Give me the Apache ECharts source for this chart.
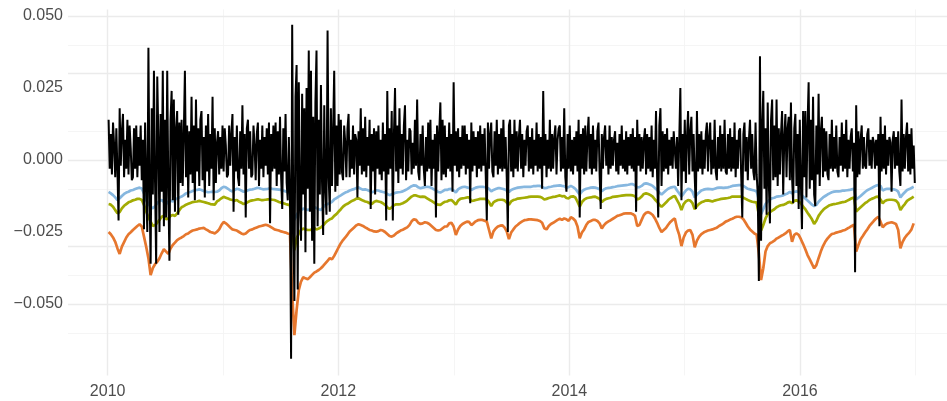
<!DOCTYPE html>
<html>
<head>
<meta charset="utf-8">
<script src="https://cdn.jsdelivr.net/npm/echarts@6.0.0/dist/echarts.min.js"></script>
<style>
html,body{margin:0;padding:0;background:#fff;}
#chart{width:947px;height:401px;}
</style>
</head>
<body>
<div id="chart"></div>
<script>
// ---- data ----
// VaR-type bands: one value per week, starting 2010-01-04
const varBlue = [
-.0111,-.0116,-.0122,-.0130,-.0139,-.0133,-.0125,-.0118,-.0113,-.0110,
-.0106,-.0104,-.0101,-.0098,-.0096,-.0099,-.0116,-.0139,-.0153,-.0162,
-.0168,-.0160,-.0150,-.0142,-.0139,-.0146,-.0153,-.0145,-.0141,-.0144,
-.0137,-.0134,-.0130,-.0127,-.0122,-.0116,-.0113,-.0111,-.0108,-.0105,
-.0104,-.0102,-.0104,-.0108,-.0110,-.0112,-.0111,-.0110,-.0111,
-.0110,-.0106,-.0098,-.0093,-.0095,-.0100,-.0106,-.0109,-.0104,-.0100,
-.0102,-.0106,-.0110,-.0109,-.0105,-.0103,-.0102,-.0100,-.0097,-.0097,
-.0100,-.0102,-.0101,-.0100,-.0098,-.0100,-.0101,-.0102,-.0103,-.0104,
-.0106,-.0109,-.0111,-.0113,-.0139,-.0208,-.0191,-.0179,-.0174,-.0169,
-.0171,-.0174,-.0171,-.0168,-.0164,-.0167,-.0171,-.0174,-.0164,-.0156,
-.0153,-.0150,
-.0145,-.0137,-.0132,-.0127,-.0123,-.0118,-.0113,-.0110,-.0106,-.0103,
-.0101,-.0097,-.0095,-.0100,-.0103,-.0102,-.0104,-.0108,-.0112,-.0109,
-.0105,-.0106,-.0109,-.0111,-.0113,-.0118,-.0122,-.0119,-.0116,-.0113,
-.0112,-.0111,-.0109,-.0105,-.0101,-.0096,-.0091,-.0088,-.0089,-.0095,
-.0098,-.0096,-.0094,-.0093,-.0094,-.0097,-.0102,-.0106,-.0111,-.0113,
-.0109,-.0104,
-.0104,-.0101,-.0100,-.0106,-.0113,-.0102,-.0097,-.0094,-.0093,-.0095,
-.0097,-.0104,-.0100,-.0096,-.0094,-.0093,-.0093,-.0094,-.0095,-.0100,
-.0109,-.0104,-.0101,-.0098,-.0098,-.0100,-.0102,-.0106,-.0111,-.0104,
-.0101,-.0098,-.0096,-.0095,-.0094,-.0093,-.0093,-.0093,-.0093,-.0091,
-.0091,-.0090,-.0090,-.0093,-.0098,-.0097,-.0094,-.0093,-.0091,-.0090,
-.0089,-.0088,
-.0090,-.0091,-.0097,-.0094,-.0090,-.0094,-.0100,-.0110,-.0120,-.0109,
-.0103,-.0100,-.0098,-.0096,-.0095,-.0096,-.0098,-.0102,-.0108,-.0102,
-.0098,-.0097,-.0096,-.0094,-.0093,-.0091,-.0090,-.0089,-.0088,-.0087,
-.0086,-.0084,-.0084,-.0088,-.0095,-.0094,-.0090,-.0083,-.0081,-.0083,
-.0086,-.0090,-.0097,-.0104,-.0113,-.0120,-.0113,-.0106,-.0100,-.0096,
-.0094,-.0093,
-.0106,-.0116,-.0127,-.0116,-.0106,-.0100,-.0102,-.0110,-.0130,-.0120,
-.0113,-.0106,-.0103,-.0101,-.0100,-.0101,-.0102,-.0100,-.0097,-.0096,
-.0096,-.0097,-.0096,-.0095,-.0093,-.0090,-.0089,-.0088,-.0087,-.0087,
-.0090,-.0095,-.0100,-.0102,-.0104,-.0106,-.0109,-.0139,-.0188,-.0171,
-.0153,-.0144,-.0137,-.0133,-.0131,-.0127,-.0126,-.0125,-.0123,-.0119,
-.0116,-.0111,
-.0116,-.0111,-.0109,-.0111,-.0118,-.0127,-.0134,-.0141,-.0148,-.0155,
-.0160,-.0156,-.0145,-.0137,-.0130,-.0125,-.0120,-.0116,-.0112,-.0110,
-.0109,-.0109,-.0108,-.0106,-.0106,-.0105,-.0104,-.0102,-.0100,-.0137,
-.0131,-.0125,-.0118,-.0111,-.0105,-.0101,-.0097,-.0093,-.0089,-.0087,
-.0090,-.0106,-.0102,-.0100,-.0100,-.0101,-.0102,-.0104,-.0110,-.0130,
-.0120,-.0112,-.0104,-.0101,-.0097,-.0093
];
const varGreen = [
-.0153,-.0155,-.0162,-.0174,-.0185,-.0181,-.0168,-.0159,-.0153,-.0147,
-.0144,-.0140,-.0138,-.0135,-.0135,-.0139,-.0156,-.0179,-.0199,-.0214,
-.0229,-.0226,-.0218,-.0208,-.0197,-.0194,-.0206,-.0203,-.0194,-.0191,
-.0194,-.0185,-.0174,-.0164,-.0160,-.0155,-.0152,-.0149,-.0146,-.0145,
-.0144,-.0142,-.0144,-.0146,-.0148,-.0150,-.0153,-.0154,-.0155,
-.0144,-.0139,-.0133,-.0128,-.0131,-.0134,-.0137,-.0139,-.0141,-.0139,
-.0145,-.0148,-.0153,-.0150,-.0146,-.0142,-.0140,-.0139,-.0137,-.0137,
-.0139,-.0139,-.0138,-.0137,-.0137,-.0138,-.0139,-.0142,-.0146,-.0148,
-.0150,-.0153,-.0155,-.0157,-.0231,-.0313,-.0272,-.0255,-.0243,-.0238,
-.0241,-.0243,-.0243,-.0241,-.0237,-.0241,-.0238,-.0234,-.0227,-.0218,
-.0211,-.0206,
-.0203,-.0194,-.0188,-.0179,-.0171,-.0162,-.0156,-.0152,-.0147,-.0142,
-.0139,-.0134,-.0133,-.0137,-.0141,-.0144,-.0146,-.0150,-.0153,-.0146,
-.0142,-.0144,-.0146,-.0150,-.0156,-.0164,-.0170,-.0164,-.0157,-.0154,
-.0154,-.0153,-.0150,-.0146,-.0141,-.0134,-.0127,-.0123,-.0123,-.0126,
-.0128,-.0127,-.0128,-.0133,-.0138,-.0142,-.0147,-.0152,-.0155,-.0156,
-.0150,-.0145,
-.0144,-.0140,-.0139,-.0146,-.0155,-.0141,-.0135,-.0133,-.0132,-.0130,
-.0130,-.0142,-.0141,-.0139,-.0137,-.0135,-.0135,-.0135,-.0137,-.0146,
-.0160,-.0147,-.0142,-.0139,-.0138,-.0138,-.0140,-.0148,-.0155,-.0144,
-.0139,-.0137,-.0134,-.0133,-.0132,-.0131,-.0130,-.0128,-.0127,-.0127,
-.0127,-.0127,-.0128,-.0131,-.0137,-.0135,-.0132,-.0130,-.0128,-.0127,
-.0125,-.0123,
-.0126,-.0125,-.0132,-.0133,-.0127,-.0126,-.0130,-.0145,-.0162,-.0146,
-.0138,-.0133,-.0131,-.0130,-.0128,-.0127,-.0131,-.0135,-.0146,-.0139,
-.0135,-.0133,-.0131,-.0128,-.0127,-.0126,-.0125,-.0124,-.0123,-.0122,
-.0122,-.0122,-.0123,-.0126,-.0137,-.0134,-.0127,-.0118,-.0116,-.0118,
-.0122,-.0127,-.0137,-.0145,-.0155,-.0162,-.0155,-.0148,-.0139,-.0133,
-.0128,-.0125,
-.0139,-.0153,-.0174,-.0153,-.0144,-.0139,-.0141,-.0150,-.0171,-.0160,
-.0152,-.0147,-.0144,-.0141,-.0140,-.0142,-.0144,-.0141,-.0139,-.0137,
-.0135,-.0134,-.0133,-.0132,-.0130,-.0127,-.0127,-.0127,-.0127,-.0127,
-.0131,-.0135,-.0139,-.0142,-.0145,-.0146,-.0148,-.0191,-.0245,-.0226,
-.0203,-.0188,-.0181,-.0176,-.0171,-.0164,-.0160,-.0157,-.0156,-.0153,
-.0148,-.0145,
-.0150,-.0142,-.0140,-.0144,-.0150,-.0162,-.0171,-.0183,-.0194,-.0206,
-.0222,-.0211,-.0194,-.0183,-.0174,-.0167,-.0162,-.0157,-.0155,-.0153,
-.0152,-.0150,-.0148,-.0146,-.0145,-.0141,-.0137,-.0133,-.0130,-.0179,
-.0171,-.0164,-.0157,-.0150,-.0145,-.0139,-.0135,-.0132,-.0128,-.0127,
-.0137,-.0150,-.0142,-.0139,-.0138,-.0138,-.0139,-.0141,-.0150,-.0174,
-.0162,-.0153,-.0142,-.0137,-.0132,-.0127
];
const varOrange = [
-.0250,-.0258,-.0269,-.0284,-.0307,-.0326,-.0301,-.0285,-.0269,-.0258,
-.0251,-.0243,-.0236,-.0229,-.0223,-.0231,-.0266,-.0301,-.0341,-.0400,
-.0375,-.0362,-.0353,-.0341,-.0324,-.0310,-.0318,-.0326,-.0307,-.0295,
-.0287,-.0278,-.0273,-.0269,-.0264,-.0258,-.0255,-.0249,-.0245,-.0243,
-.0241,-.0238,-.0237,-.0236,-.0241,-.0245,-.0250,-.0252,-.0255,
-.0249,-.0241,-.0226,-.0215,-.0220,-.0227,-.0234,-.0241,-.0243,-.0245,
-.0250,-.0255,-.0258,-.0255,-.0248,-.0243,-.0241,-.0237,-.0234,-.0231,
-.0229,-.0227,-.0225,-.0227,-.0231,-.0236,-.0241,-.0243,-.0245,-.0248,
-.0250,-.0252,-.0255,-.0257,-.0463,-.0608,-.0521,-.0451,-.0422,-.0407,
-.0411,-.0414,-.0407,-.0399,-.0391,-.0387,-.0382,-.0376,-.0368,-.0359,
-.0350,-.0341,
-.0345,-.0333,-.0318,-.0303,-.0289,-.0278,-.0269,-.0259,-.0248,-.0241,
-.0234,-.0227,-.0223,-.0226,-.0229,-.0234,-.0238,-.0243,-.0245,-.0248,
-.0249,-.0247,-.0243,-.0245,-.0250,-.0257,-.0264,-.0266,-.0262,-.0255,
-.0250,-.0245,-.0242,-.0238,-.0234,-.0226,-.0213,-.0206,-.0208,-.0218,
-.0222,-.0220,-.0216,-.0218,-.0222,-.0229,-.0236,-.0243,-.0245,-.0243,
-.0237,-.0231,
-.0231,-.0220,-.0218,-.0231,-.0260,-.0241,-.0229,-.0222,-.0218,-.0214,
-.0215,-.0226,-.0220,-.0213,-.0209,-.0208,-.0208,-.0211,-.0214,-.0243,
-.0272,-.0248,-.0238,-.0231,-.0228,-.0227,-.0234,-.0248,-.0275,-.0252,
-.0241,-.0231,-.0225,-.0218,-.0213,-.0209,-.0208,-.0206,-.0206,-.0207,
-.0208,-.0209,-.0212,-.0218,-.0237,-.0241,-.0229,-.0222,-.0218,-.0213,
-.0208,-.0204,
-.0208,-.0203,-.0206,-.0211,-.0199,-.0203,-.0211,-.0231,-.0272,-.0252,
-.0241,-.0225,-.0215,-.0212,-.0208,-.0208,-.0212,-.0220,-.0238,-.0226,
-.0218,-.0213,-.0209,-.0204,-.0199,-.0194,-.0192,-.0189,-.0186,-.0185,
-.0185,-.0185,-.0188,-.0194,-.0229,-.0226,-.0208,-.0191,-.0183,-.0181,
-.0185,-.0191,-.0203,-.0218,-.0236,-.0250,-.0243,-.0236,-.0225,-.0215,
-.0208,-.0203,
-.0237,-.0260,-.0299,-.0269,-.0252,-.0245,-.0243,-.0260,-.0303,-.0280,
-.0266,-.0257,-.0252,-.0248,-.0245,-.0243,-.0241,-.0238,-.0235,-.0229,
-.0225,-.0220,-.0214,-.0211,-.0207,-.0204,-.0200,-.0197,-.0197,-.0199,
-.0206,-.0218,-.0231,-.0241,-.0248,-.0255,-.0259,-.0324,-.0417,-.0376,
-.0318,-.0299,-.0289,-.0285,-.0280,-.0273,-.0269,-.0264,-.0260,-.0255,
-.0248,-.0243,
-.0284,-.0260,-.0255,-.0260,-.0275,-.0292,-.0310,-.0330,-.0345,-.0361,
-.0376,-.0365,-.0341,-.0318,-.0299,-.0284,-.0273,-.0264,-.0257,-.0255,
-.0252,-.0250,-.0248,-.0245,-.0243,-.0238,-.0234,-.0229,-.0225,-.0318,
-.0295,-.0275,-.0264,-.0252,-.0241,-.0229,-.0220,-.0211,-.0203,-.0197,
-.0214,-.0234,-.0225,-.0220,-.0218,-.0216,-.0219,-.0222,-.0243,-.0307,
-.0284,-.0270,-.0260,-.0252,-.0241,-.0220
];
// daily-return trace: two readings per week, starting 2010-01-04
const returns = [
.014,-.003,.009,-.005,.013,.005,-.006,.011,-.004,-.021,
.018,-.002,.010,.016,-.006,.007,-.003,.014,-.005,.012,
.004,-.007,-.006,.011,-.003,.012,-.006,.008,-.002,.012,
-.007,.007,-.024,.013,-.008,-.025,.039,-.010,-.036,.018,
-.012,.031,-.008,-.036,.029,.008,-.025,.016,-.011,.031,
-.023,.014,-.020,.031,-.009,-.035,.014,.024,-.014,.021,
-.018,.011,.017,-.019,.013,-.008,.014,-.009,.009,.031,
-.006,.012,-.013,.010,-.005,.022,-.008,.012,-.014,.021,
-.004,.011,-.009,.014,.017,-.007,.008,-.013,.012,-.004,
.016,-.009,.009,-.003,.022,-.014,.011,-.008,.006,.010,
-.005,.008,-.003,.012,-.004,.011,.005,-.006,-.005,.012,
-.002,.009,.016,-.018,.008,-.004,.012,-.006,-.009,.010,
-.003,.019,-.005,.009,-.020,.011,.014,-.003,.010,-.006,
-.005,.012,.005,-.007,.009,.013,-.009,.007,-.003,.012,
-.006,.008,-.002,.011,-.005,.013,-.022,.009,-.004,.012,
-.003,.013,-.009,.010,-.005,.015,-.006,-.017,.011,-.004,
.016,-.008,-.014,.008,-.012,-.069,.047,-.020,-.049,.022,
.033,-.045,.027,-.015,-.028,.023,-.012,.018,-.032,.025,
-.010,.038,-.018,.031,-.028,.015,-.036,.020,.038,-.023,
.014,-.012,.026,-.008,-.026,.019,-.010,-.019,.045,-.006,
-.018,.018,-.009,.010,.031,-.011,.012,-.009,.016,-.005,
.014,-.004,-.007,.012,.006,-.006,.011,.016,-.006,.007,
-.003,.012,-.005,.009,.007,-.013,.010,-.002,.018,-.005,
.011,-.004,.015,-.006,.008,-.002,.014,-.017,.009,-.004,
.011,-.012,.010,-.003,.012,-.005,.007,-.007,.013,-.004,
.009,-.021,.024,-.005,.011,-.003,.017,-.021,.009,.025,
-.004,.012,-.008,.018,-.003,.009,-.005,.012,.019,-.007,
.007,-.004,.011,.010,-.005,.006,-.003,.014,-.002,.021,
-.004,-.007,.009,-.002,.012,-.003,-.009,.008,-.004,.013,
-.003,.014,-.009,.007,-.003,.009,-.020,.012,-.004,.010,
.020,-.007,.014,-.005,.012,-.006,.008,-.003,.013,-.004,
.009,-.011,.027,-.002,.010,-.004,.011,-.006,.008,-.003,
.012,-.002,.012,-.005,.009,-.003,.007,-.015,.013,-.004,
.010,-.002,.008,-.006,.010,-.003,.012,-.004,.009,-.002,
.011,-.005,-.021,.013,-.003,.009,.013,-.004,-.006,.010,
-.002,.014,-.005,.009,-.003,.011,-.004,.014,-.003,.008,
-.006,-.025,.012,.014,-.004,.009,-.006,.014,-.003,.010,
-.004,.008,.014,-.003,.009,-.006,.007,-.002,.010,.012,
-.004,.008,-.003,.011,-.005,.007,-.002,.013,-.004,.009,
-.003,.008,-.010,.024,-.002,.009,-.006,.007,-.003,.014,
-.004,.009,-.003,.008,.012,-.005,.007,.011,.012,-.004,
.008,-.003,.018,-.006,-.011,.009,-.003,.012,-.004,.007,
-.005,.008,-.002,.010,-.004,.014,-.020,.009,-.003,.011,
-.005,.012,-.004,.008,.015,-.003,.009,-.005,.012,-.003,
.007,-.004,.010,.013,-.005,-.017,.009,-.003,.008,.012,
-.002,.007,-.005,.012,-.003,.008,-.002,.007,.010,-.004,
.006,-.005,.009,-.002,.012,-.003,.007,-.004,.010,-.005,
.008,-.002,.009,-.003,.011,-.004,.008,-.018,.014,-.002,
.009,-.004,.008,-.003,.007,.011,-.005,.009,-.003,.008,
-.004,.012,-.006,.007,-.003,.017,-.006,-.020,.012,.018,
-.009,.010,-.004,.009,-.003,.011,-.005,.007,-.002,.008,
-.003,.010,.010,-.003,.008,-.009,.007,.025,-.014,.009,
-.004,.014,-.008,.008,.017,-.005,.010,.015,-.004,.009,
-.006,-.017,.017,-.004,.009,-.003,.010,-.005,.007,-.003,
.009,.013,-.004,.008,.013,-.005,.007,-.003,.014,-.004,
-.007,.008,-.003,.012,-.004,.009,-.003,.014,-.004,-.005,
.009,-.003,.011,-.004,.008,-.003,.013,-.006,.007,-.003,
.010,.011,-.005,-.020,.009,.013,-.004,.008,-.007,.007,
.014,-.003,.009,-.004,-.007,.013,-.005,-.012,-.042,.036,
-.028,.012,.024,-.010,.011,-.019,.020,-.008,-.022,.014,
.021,-.007,.012,-.006,.021,-.009,.011,-.005,.009,.017,
-.012,.008,.016,-.006,.011,.015,-.007,.020,-.006,-.015,
.011,.016,-.009,.009,-.017,.014,-.008,-.024,.017,-.006,
.017,-.013,.012,.027,-.010,.014,-.007,.022,-.012,-.016,
.012,-.005,.023,-.009,.010,.015,-.006,.011,-.004,.010,
-.005,-.007,.009,-.003,.014,-.004,.008,-.003,.012,-.004,
-.006,.008,-.002,.013,-.004,.009,-.003,.014,-.006,.007,
-.003,.008,.011,-.004,.006,-.039,.019,-.006,.010,-.005,
.007,.012,-.003,.008,-.002,-.003,.009,.011,-.002,.007,
-.003,.008,.006,-.003,.007,-.002,.009,-.023,.015,-.004,
.009,-.003,.012,-.005,.007,-.002,.008,.006,-.011,.007,
.010,-.003,.008,-.002,.010,-.004,-.009,.021,-.004,.009,
-.003,.008,.013,-.004,.009,-.005,.011,-.003,.005,-.008
];
const yTickValues = [-0.05, -0.025, 0, 0.025, 0.05];
const yMinorValues = [-0.0625, -0.0375, -0.0125, 0.0125, 0.0375];
const xTickYears = [2010, 2012, 2014, 2016];
const xMinorYears = [2011, 2013, 2015, 2017];

// ---- build ----
const DAY = 86400000;
const START = Date.UTC(2010, 0, 4);
const weekDates = varBlue.map((_, i) => START + i * 7 * DAY);
const halfWeekDates = returns.map((_, j) => START + j * 3.5 * DAY);
const yearTs = y => Date.UTC(y, 0, 1);

const chart = echarts.init(document.getElementById('chart'), null, {renderer: 'canvas'});
const labelStyle = {color: '#4D4D4D', fontSize: 16, fontFamily: 'Liberation Sans, Arial, sans-serif'};

function gridSeries(yVals, xVals, color, width) {
  return {
    type: 'line', data: [], silent: true, z: 1, animation: false,
    markLine: {
      z: 1, silent: true, symbol: 'none', animation: false,
      label: {show: false}, emphasis: {disabled: true},
      lineStyle: {color: color, width: width, type: 'solid'},
      data: yVals.map(v => ({yAxis: v})).concat(xVals.map(y => ({xAxis: yearTs(y)})))
    }
  };
}
function lineSeries(name, dates, vals, color, width, z) {
  return {
    name: name, type: 'line', showSymbol: false, symbol: 'none', z: z,
    lineStyle: {color: color, width: width}, emphasis: {disabled: true},
    data: vals.map((v, i) => [dates[i], v])
  };
}

chart.setOption({
  animation: false,
  backgroundColor: '#ffffff',
  grid: {left: 68, right: 0, top: 9.4, bottom: 25.6, containLabel: false},
  xAxis: {
    type: 'value', min: Date.UTC(2009, 7, 28, 12), max: Date.UTC(2017, 3, 10, 10),
    axisLine: {show: false}, axisTick: {show: false}, splitLine: {show: false},
    axisLabel: Object.assign({
      customValues: xTickYears.map(yearTs),
      formatter: v => String(new Date(v).getUTCFullYear()),
      margin: 8, hideOverlap: false
    }, labelStyle)
  },
  yAxis: {
    type: 'value', min: -0.0748, max: 0.0523,
    axisLine: {show: false}, axisTick: {show: false}, splitLine: {show: false},
    axisLabel: Object.assign({
      customValues: yTickValues,
      formatter: v => (v < 0 ? '\u2212' : '') + Math.abs(v).toFixed(3),
      margin: 5
    }, labelStyle)
  },
  series: [
    gridSeries(yMinorValues, xMinorYears, '#F4F4F4', 0.9),
    gridSeries(yTickValues, xTickYears, '#EBEBEB', 1.4),
    lineSeries('VaR 1', weekDates, varBlue, '#86B7DF', 2.7, 3),
    lineSeries('VaR 2', weekDates, varGreen, '#A3AC04', 2.7, 3),
    lineSeries('VaR 3', weekDates, varOrange, '#E6772E', 2.7, 3),
    lineSeries('returns', halfWeekDates, returns, '#000000', 2.0, 4)
  ]
});
</script>
</body>
</html>
